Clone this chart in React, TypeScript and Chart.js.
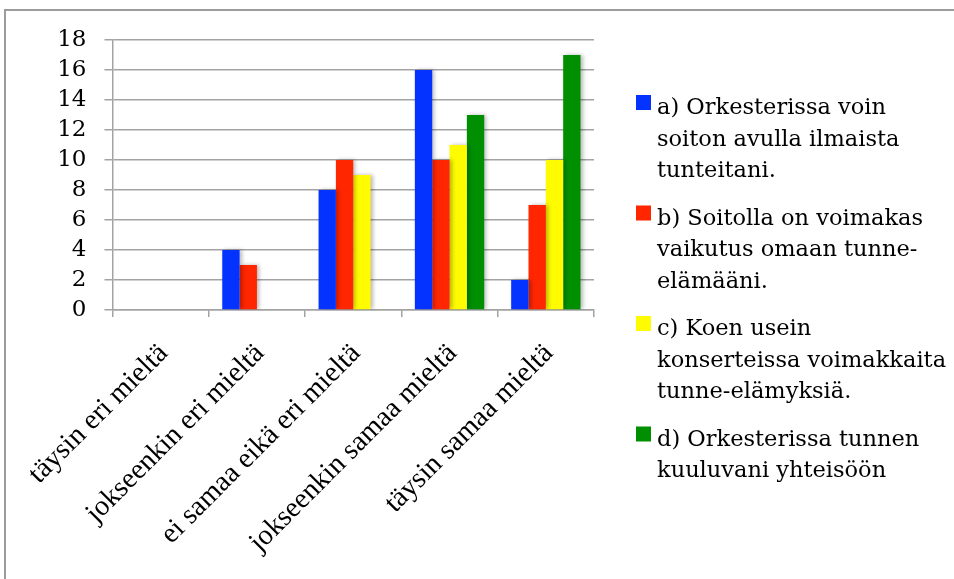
import React, { useEffect, useRef } from 'react';
import { Chart, registerables } from 'chart.js';

Chart.register(...registerables);

const categories = [
  'täysin eri mieltä',
  'jokseenkin eri mieltä',
  'ei samaa eikä eri mieltä',
  'jokseenkin samaa mieltä',
  'täysin samaa mieltä',
];

const legendLinesA = ['a) Orkesterissa voin', 'soiton avulla ilmaista', 'tunteitani.'];
const legendLinesB = ['b) Soitolla on voimakas', 'vaikutus omaan tunne-', 'elämääni.'];
const legendLinesC = ['c) Koen usein', 'konserteissa voimakkaita', 'tunne-elämyksiä.'];
const legendLinesD = ['d) Orkesterissa tunnen', 'kuuluvani yhteisöön'];

const seriesA = [0, 4, 8, 16, 2];
const seriesB = [0, 3, 10, 10, 7];
const seriesC = [0, 0, 9, 11, 10];
const seriesD = [0, 0, 0, 13, 17];

const colorA = '#0433ff';
const colorB = '#ff2600';
const colorC = '#fffb00';
const colorD = '#008f00';

const yMin = 0;
const yMax = 18;
const yStep = 2;

const legendLines = [legendLinesA, legendLinesB, legendLinesC, legendLinesD];

const GRID = '#a3a3a3';

const shadowPlugin = {
  id: 'barShadow',
  beforeDatasetsDraw(chart: any) {
    const ctx = chart.ctx;
    ctx.save();
    ctx.shadowColor = 'rgba(0,0,0,0.28)';
    ctx.shadowBlur = 4;
    ctx.shadowOffsetX = 2;
    ctx.shadowOffsetY = 0;
  },
  afterDatasetsDraw(chart: any) {
    chart.ctx.restore();
  },
};

const wrappedLegend = {
  id: 'wrappedLegend',
  afterDraw(chart: any) {
    const ctx = chart.ctx;
    const boxX = chart.chartArea.right + 42;
    const textX = boxX + 21;
    const lh = 31.5;
    ctx.save();
    ctx.font = '22.5px "DejaVu Serif"';
    ctx.textBaseline = 'alphabetic';
    ctx.textAlign = 'left';
    let y = 114;
    chart.data.datasets.forEach((ds: any, i: number) => {
      const lines = legendLines[i];
      ctx.fillStyle = ds.backgroundColor;
      ctx.fillRect(boxX, y - 19, 15, 15);
      ctx.fillStyle = '#000';
      lines.forEach((ln: string, j: number) => ctx.fillText(ln, textX, y + j * lh));
      y += lines.length * lh + 16;
    });
    ctx.restore();
  },
};

export default function App() {
  const ref = useRef<HTMLCanvasElement | null>(null);

  useEffect(() => {
    if (!ref.current) return;
    const chart = new Chart(ref.current, {
      type: 'bar',
      data: {
        labels: categories,
        datasets: [
          { label: legendLinesA.join(' '), data: seriesA, backgroundColor: colorA },
          { label: legendLinesB.join(' '), data: seriesB, backgroundColor: colorB },
          { label: legendLinesC.join(' '), data: seriesC, backgroundColor: colorC },
          { label: legendLinesD.join(' '), data: seriesD, backgroundColor: colorD },
        ],
      },
      options: {
        animation: false,
        responsive: false,
        devicePixelRatio: 1,
        layout: { padding: { left: 0, top: 40, right: 360, bottom: 0 } },
        datasets: {
          bar: { categoryPercentage: 0.72, barPercentage: 1, borderWidth: 0 },
        },
        plugins: {
          legend: { display: false },
          tooltip: { enabled: false },
          title: { display: false },
        },
        scales: {
          x: {
            grid: {
              display: true,
              drawOnChartArea: false,
              drawTicks: true,
              tickLength: 7,
              color: GRID,
              lineWidth: 1.5,
              offset: true,
            },
            border: { color: GRID, width: 1.5 },
            ticks: {
              autoSkip: false,
              minRotation: 45,
              maxRotation: 45,
              padding: 20,
              labelOffset: 3,
              color: '#000',
              font: { family: '"Liberation Serif"', size: 28.5 },
            },
            afterFit: (s: any) => {
              s.height = 269;
            },
          },
          y: {
            min: yMin,
            max: yMax,
            ticks: {
              stepSize: yStep,
              autoSkip: false,
              padding: 18,
              color: '#000',
              font: { family: '"DejaVu Serif"', size: 23 },
            },
            grid: { color: GRID, lineWidth: 1.5, tickLength: 8 },
            border: { color: GRID, width: 1.5 },
            afterFit: (s: any) => {
              s.width = 108;
            },
          },
        },
      } as any,
      plugins: [shadowPlugin, wrappedLegend],
    });
    return () => chart.destroy();
  }, []);

  return (
    <div
      style={{
        position: 'fixed',
        left: 0,
        top: 0,
        width: 954,
        height: 579,
        overflow: 'hidden',
        background: '#fff',
      }}
    >
      <div
        style={{
          position: 'absolute',
          left: 4,
          top: 9,
          width: 1200,
          height: 900,
          borderTop: '2px solid #9c9c9c',
          borderLeft: '2px solid #9c9c9c',
        }}
      />
      <div style={{ position: 'absolute', left: 0, top: 0, width: 954, height: 579 }}>
        <canvas ref={ref} width={954} height={579} style={{ width: 954, height: 579 }} />
      </div>
    </div>
  );
}
